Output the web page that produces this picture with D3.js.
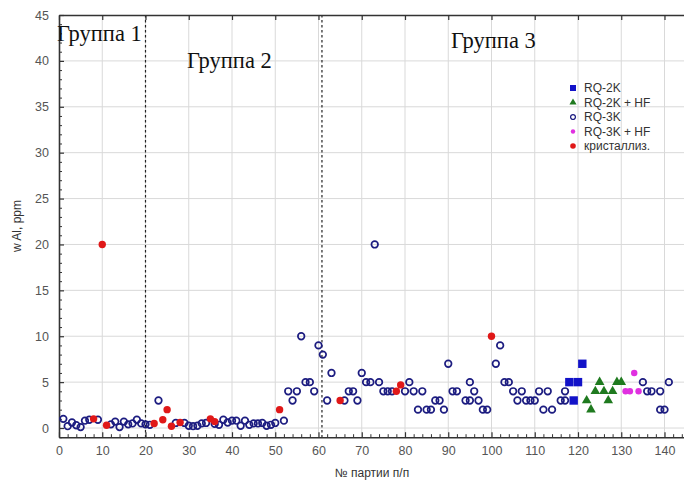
<!DOCTYPE html>
<html>
<head>
<meta charset="utf-8">
<script src="https://cdn.jsdelivr.net/npm/d3@7"></script>
<style>
  body { margin: 0; background: #fff; }
  svg text { font-family: "Liberation Sans", Arial, sans-serif; }
</style>
</head>
<body>
<svg id="chart" width="684" height="487"></svg>
<script>
// Aluminium content (ppm) by batch number, grouped by raw material type
const rq2k       = [[118, 5], [119, 3], [120, 5], [121, 7]];
const rq2kHF     = [[122, 3], [123, 2], [124, 4], [125, 5], [126, 4], [127, 3], [128, 4], [129, 5], [130, 5]];
const rq3kHF     = [[131, 4], [132, 4], [133, 6], [134, 4]];
const crystal    = [[8, 1], [10, 20], [11, 0.3], [22, 0.5], [24, 0.9], [25, 2], [26, 0.2], [28, 0.6],
                    [35, 1], [36, 0.7], [51, 2], [65, 3], [78, 4], [79, 4.7], [100, 10]];
const rq3k = [
  // group 1
  [1, 1], [2, 0.2], [3, 0.6], [4, 0.3], [5, 0.1], [6, 0.8], [7, 0.9], [9, 0.9], [12, 0.4], [13, 0.7],
  [14, 0.1], [15, 0.7], [16, 0.4], [17, 0.5], [18, 0.9], [19, 0.5], [20, 0.4],
  // group 2
  [21, 0.35], [23, 3], [27, 0.55], [29, 0.55], [30, 0.25], [31, 0.2], [32, 0.25], [33, 0.5], [34, 0.55],
  [36, 0.45], [37, 0.35], [38, 0.9], [39, 0.6], [40, 0.8], [41, 0.8], [42, 0.25], [43, 0.8], [44, 0.35],
  [45, 0.5], [46, 0.5], [47, 0.55], [48, 0.25], [49, 0.35], [50, 0.55], [52, 0.8],
  [53, 4], [54, 3], [55, 4], [56, 10], [57, 5], [58, 5], [59, 4], [60, 9],
  // group 3
  [61, 8], [62, 3], [63, 6], [66, 3], [67, 4], [68, 4], [69, 3], [70, 6], [71, 5], [72, 5], [73, 20],
  [74, 5], [75, 4], [76, 4], [77, 4], [80, 4], [81, 5], [82, 4], [83, 2], [84, 4], [85, 2], [86, 2],
  [87, 3], [88, 3], [89, 2], [90, 7], [91, 4], [92, 4], [94, 3], [95, 3], [95, 5], [96, 4], [97, 3],
  [98, 2], [99, 2], [101, 7], [102, 9], [103, 5], [104, 5], [105, 4], [106, 3], [107, 4], [108, 3],
  [109, 3], [110, 3], [111, 4], [112, 2], [113, 4], [114, 2], [116, 3], [117, 3], [117, 4],
  [135, 5], [136, 4], [137, 4], [139, 4], [139, 2], [140, 2], [141, 5]
];

const xTicks = [0, 10, 20, 30, 40, 50, 60, 70, 80, 90, 100, 110, 120, 130, 140];
const yTicks = [0, 5, 10, 15, 20, 25, 30, 35, 40, 45];
const groupBounds = [20, 60.8];
const groupNames = ["Группа 1", "Группа 2", "Группа 3"];
const groupLabelPos = [[57, 41], [187, 68], [451, 48]];
const legendNames = ["RQ-2K", "RQ-2K + HF", "RQ-3K", "RQ-3K + HF", "кристаллиз."];

const svg = d3.select("#chart");
const x = d3.scaleLinear().domain([0, 146]).range([59, 59 + 146 * 4.325]);
const y = d3.scaleLinear().domain([-1, 45]).range([437.2, 15]);
const x0 = x.range()[0], x1 = x.range()[1];
const yTop = y(45), yBot = y(-1);

// grid
const grid = svg.append("g").attr("stroke", "#d9d9d9").attr("stroke-width", 1);
grid.selectAll("line.v").data(xTicks.filter(d => d > 0)).join("line")
  .attr("x1", d => x(d)).attr("x2", d => x(d)).attr("y1", yTop).attr("y2", yBot);
grid.selectAll("line.h").data(yTicks.filter(d => d < 45)).join("line")
  .attr("y1", d => y(d)).attr("y2", d => y(d)).attr("x1", x0).attr("x2", x1);

// group separators
svg.append("g").selectAll("line").data(groupBounds).join("line")
  .attr("x1", d => x(d)).attr("x2", d => x(d)).attr("y1", yTop).attr("y2", yBot)
  .attr("stroke", "#222").attr("stroke-width", 1.2).attr("stroke-dasharray", "2.5,2.5");

// axes
const axisColor = "#333";
function styleAxis(g) {
  g.select(".domain").attr("stroke", axisColor).attr("stroke-width", 1.6);
  g.selectAll(".tick line").attr("stroke", axisColor).attr("stroke-width", 1.2);
  g.selectAll(".tick text").attr("fill", "#555").style("font-size", "12.5px")
    .style("font-family", "'Liberation Sans', Arial, sans-serif");
}
const minorX = d3.range(0, 146, 2).filter(d => d % 10 !== 0);
const minorY = d3.range(-1, 45, 1).filter(d => d % 5 !== 0);

svg.append("g").attr("transform", `translate(0,${yBot})`)
  .call(d3.axisBottom(x).tickValues(minorX).tickSize(-3).tickFormat(""))
  .call(g => { g.select(".domain").remove(); g.selectAll(".tick line").attr("stroke", axisColor); });
svg.append("g").attr("transform", `translate(${x0},0)`)
  .call(d3.axisLeft(y).tickValues(minorY).tickSize(-3).tickFormat(""))
  .call(g => { g.select(".domain").remove(); g.selectAll(".tick line").attr("stroke", axisColor); });

svg.append("g").attr("transform", `translate(0,${yBot})`)
  .call(d3.axisBottom(x).tickValues(xTicks).tickSizeInner(-5).tickSizeOuter(0).tickPadding(9))
  .call(styleAxis);
svg.append("g").attr("transform", `translate(${x0},0)`)
  .call(d3.axisLeft(y).tickValues(yTicks).tickSizeInner(-5).tickSizeOuter(0).tickPadding(10))
  .call(styleAxis);
svg.append("g").attr("transform", `translate(0,${yTop})`)
  .call(d3.axisTop(x).tickValues(xTicks).tickSizeInner(-5).tickSizeOuter(0).tickFormat(""))
  .call(styleAxis);

// axis titles
svg.append("text").attr("x", 372).attr("y", 477).attr("text-anchor", "middle")
  .attr("fill", "#333").style("font-size", "12px").text("№ партии п/п");
svg.append("text").attr("transform", "translate(21,226) rotate(-90)").attr("text-anchor", "middle")
  .attr("fill", "#333").style("font-size", "12px").text("w Al, ppm");

// group labels
svg.append("g").selectAll("text").data(groupNames).join("text")
  .attr("x", (d, i) => groupLabelPos[i][0]).attr("y", (d, i) => groupLabelPos[i][1])
  .attr("fill", "#111").style("font-family", "'Liberation Serif', 'Times New Roman', serif")
  .style("font-size", "22.5px").text(d => d);

// markers
const colors = { sq: "#1212c8", tri: "#1f7a1f", circ: "#1c1c80", mag: "#e030e0", red: "#e01818" };
const plot = svg.append("g");
plot.selectAll("circle.rq3k").data(rq3k).join("circle")
  .attr("cx", d => x(d[0])).attr("cy", d => y(d[1])).attr("r", 3.3)
  .attr("fill", "none").attr("stroke", colors.circ).attr("stroke-width", 1.7);
plot.selectAll("rect.rq2k").data(rq2k).join("rect")
  .attr("x", d => x(d[0]) - 4.2).attr("y", d => y(d[1]) - 4.2).attr("width", 8.4).attr("height", 8.4)
  .attr("fill", colors.sq);
const tri = d3.symbol().type(d3.symbolTriangle).size(40);
plot.selectAll("path.tri").data(rq2kHF).join("path")
  .attr("transform", d => `translate(${x(d[0])},${y(d[1])})`).attr("d", tri).attr("fill", colors.tri);
plot.selectAll("circle.mag").data(rq3kHF).join("circle")
  .attr("cx", d => x(d[0])).attr("cy", d => y(d[1])).attr("r", 3.2).attr("fill", colors.mag);
plot.selectAll("circle.red").data(crystal).join("circle")
  .attr("cx", d => x(d[0])).attr("cy", d => y(d[1])).attr("r", 3.7).attr("fill", colors.red);

// legend
const lg = svg.append("g").attr("transform", "translate(573,88)");
const items = lg.selectAll("g").data(legendNames).join("g")
  .attr("transform", (d, i) => `translate(0,${i * 14.5})`);
items.each(function (d, i) {
  const g = d3.select(this);
  if (i === 0) g.append("rect").attr("x", -3).attr("y", -3).attr("width", 6).attr("height", 6).attr("fill", colors.sq);
  if (i === 1) g.append("path").attr("d", d3.symbol().type(d3.symbolTriangle).size(22)).attr("fill", colors.tri);
  if (i === 2) g.append("circle").attr("r", 2.4).attr("fill", "none").attr("stroke", colors.circ).attr("stroke-width", 1.3);
  if (i === 3) g.append("circle").attr("r", 2.2).attr("fill", colors.mag);
  if (i === 4) g.append("circle").attr("r", 2.8).attr("fill", colors.red);
  g.append("text").attr("x", 11).attr("y", 0).attr("dy", "0.35em")
    .attr("fill", "#333").style("font-size", "12px").text(d);
});
</script>
</body>
</html>
